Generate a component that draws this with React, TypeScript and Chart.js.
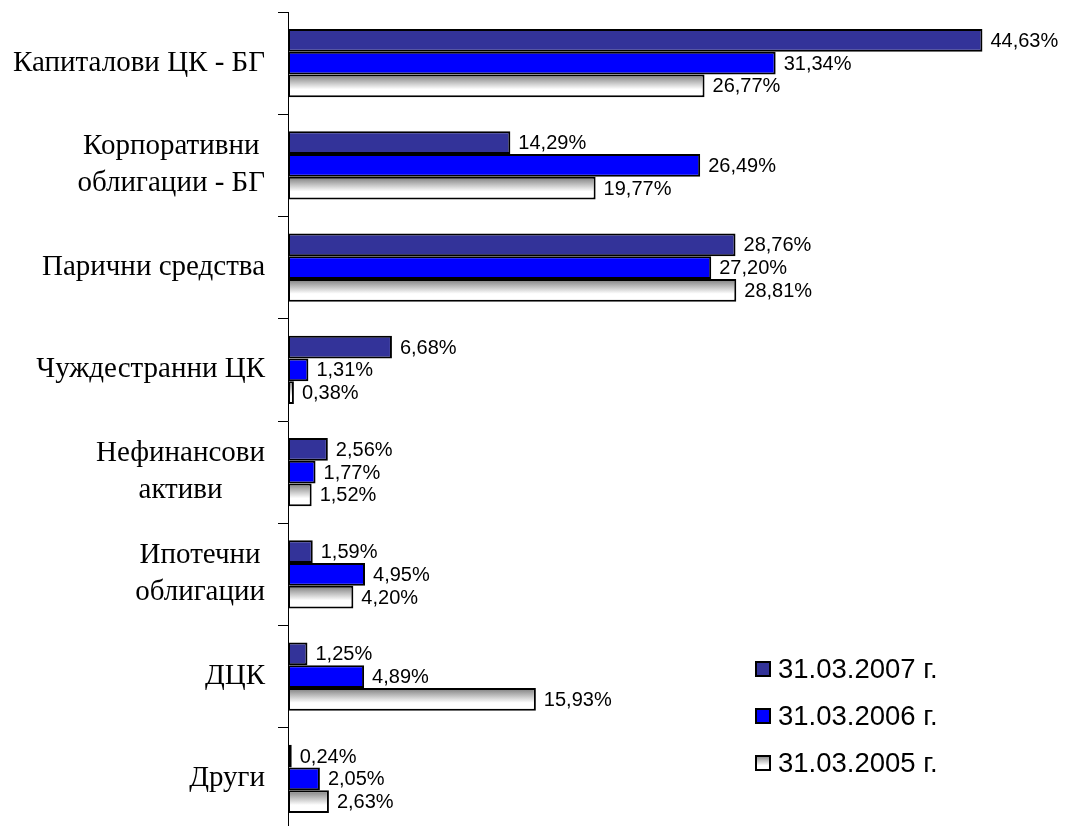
import React, { useEffect, useRef } from "react";
import { Chart, registerables } from "chart.js";

Chart.register(...registerables);

const categories: string[][] = [
  ["Капиталови ЦК - БГ"],
  ["Корпоративни", "облигации - БГ"],
  ["Парични средства"],
  ["Чуждестранни ЦК"],
  ["Нефинансови", "активи"],
  ["Ипотечни", "облигации"],
  ["ДЦК"],
  ["Други"],
];

const seriesNames = ["31.03.2007 г.", "31.03.2006 г.", "31.03.2005 г."];
const values2007 = [44.63, 14.29, 28.76, 6.68, 2.56, 1.59, 1.25, 0.24];
const values2006 = [31.34, 26.49, 27.2, 1.31, 1.77, 4.95, 4.89, 2.05];
const values2005 = [26.77, 19.77, 28.81, 0.38, 1.52, 4.2, 15.93, 2.63];

const COLOR_2007 = "#333399";
const COLOR_2006 = "#0000FF";

function fmt(v: number) {
  return v.toFixed(2).replace(".", ",") + "%";
}

function grayGradient(ctx: CanvasRenderingContext2D, top: number, h: number) {
  const g = ctx.createLinearGradient(0, top, 0, top + h);
  g.addColorStop(0, "#7a7a7a");
  g.addColorStop(0.65, "#ffffff");
  g.addColorStop(1, "#ffffff");
  return g;
}

const gradientPlugin = {
  id: "gradientBars",
  beforeDatasetsDraw(chart: any) {
    const ctx = chart.ctx;
    const meta = chart.getDatasetMeta(2);
    meta.data.forEach((el: any) => {
      const { y, height } = el.getProps(["y", "height"], true);
      const top = y - height / 2;
      el.options = Object.assign({}, el.options, {
        backgroundColor: grayGradient(ctx, top, height),
      });
    });
  },
};

const labelsPlugin = {
  id: "valueLabels",
  afterDatasetsDraw(chart: any) {
    const ctx = chart.ctx;
    ctx.save();
    ctx.font = '20px "Liberation Sans", Arial, sans-serif';
    ctx.fillStyle = "#000";
    ctx.textAlign = "left";
    ctx.textBaseline = "middle";
    chart.data.datasets.forEach((ds: any, di: number) => {
      const meta = chart.getDatasetMeta(di);
      meta.data.forEach((el: any, i: number) => {
        const { x, y } = el.getProps(["x", "y"], true);
        ctx.fillText(fmt(ds.data[i]), x + 8, y + 1);
      });
    });
    ctx.restore();
  },
};

const yLabelsPlugin = {
  id: "yLabels",
  afterDraw(chart: any) {
    const ctx = chart.ctx;
    const scale = chart.scales.y;
    ctx.save();
    ctx.font = '29px "Liberation Serif", "Times New Roman", serif';
    ctx.fillStyle = "#000";
    ctx.textAlign = "center";
    ctx.textBaseline = "middle";
    const lineH = 37;
    const right = 265;
    categories.forEach((lines, i) => {
      const cy = scale.getPixelForTick(i);
      const maxW = Math.max(...lines.map((l) => ctx.measureText(l).width));
      const cx = right - maxW / 2;
      const startY = cy - ((lines.length - 1) * lineH) / 2;
      lines.forEach((l, k) => {
        ctx.fillText(l, cx, startY + k * lineH);
      });
    });
    ctx.restore();
  },
};

const legendPlugin = {
  id: "customLegend",
  afterDraw(chart: any) {
    const ctx = chart.ctx;
    ctx.save();
    const mx = 755;
    const size = 16;
    const tx = 778;
    const rows = [669, 716, 763];
    ctx.font = '27.5px "Liberation Sans", Arial, sans-serif';
    ctx.textAlign = "left";
    ctx.textBaseline = "middle";
    seriesNames.forEach((name, i) => {
      const cy = rows[i];
      const top = cy - size / 2;
      let fill: any;
      if (i === 0) fill = COLOR_2007;
      else if (i === 1) fill = COLOR_2006;
      else fill = grayGradient(ctx, top, size);
      ctx.fillStyle = fill;
      ctx.fillRect(mx, top, size, size);
      ctx.strokeStyle = "#000";
      ctx.lineWidth = 2;
      ctx.strokeRect(mx + 1, top + 1, size - 2, size - 2);
      ctx.fillStyle = "#000";
      ctx.fillText(name, tx, cy + 1);
    });
    ctx.restore();
  },
};

export default function App() {
  const ref = useRef<HTMLCanvasElement | null>(null);

  useEffect(() => {
    if (!ref.current) return;
    const chart = new Chart(ref.current, {
      type: "bar",
      data: {
        labels: categories.map((c) => c.join(" ")),
        datasets: [
          {
            label: seriesNames[0],
            data: values2007,
            backgroundColor: COLOR_2007,
            borderColor: "#000",
            borderWidth: 2,
            borderSkipped: false,
          },
          {
            label: seriesNames[1],
            data: values2006,
            backgroundColor: COLOR_2006,
            borderColor: "#000",
            borderWidth: 2,
            borderSkipped: false,
          },
          {
            label: seriesNames[2],
            data: values2005,
            backgroundColor: "#dddddd",
            borderColor: "#000",
            borderWidth: 2,
            borderSkipped: false,
          },
        ],
      },
      options: {
        indexAxis: "y",
        responsive: false,
        animation: false,
        devicePixelRatio: 1,
        layout: { padding: { top: 12, bottom: 0, left: 0, right: 0 } },
        datasets: {
          bar: { categoryPercentage: 0.667, barPercentage: 1 },
        },
        scales: {
          x: {
            display: false,
            min: 0,
            max: 50,
          },
          y: {
            type: "category",
            position: "left",
            afterFit(scale: any) {
              scale.width = 288;
            },
            grid: {
              offset: true,
              drawOnChartArea: false,
              drawTicks: true,
              tickLength: 10,
              color: "#000",
              lineWidth: 1,
            },
            border: { display: true, color: "#000", width: 1 },
            ticks: { display: false },
          },
        },
        plugins: {
          legend: { display: false },
          tooltip: { enabled: false },
        },
      },
      plugins: [gradientPlugin, labelsPlugin, yLabelsPlugin, legendPlugin],
    } as any);
    return () => chart.destroy();
  }, []);

  return (
    <div
      style={{
        position: "fixed",
        left: 0,
        top: 0,
        width: 1066,
        height: 826,
        overflow: "hidden",
        background: "#fff",
      }}
    >
      <canvas ref={ref} width={1066} height={830} style={{ display: "block" }} />
    </div>
  );
}
